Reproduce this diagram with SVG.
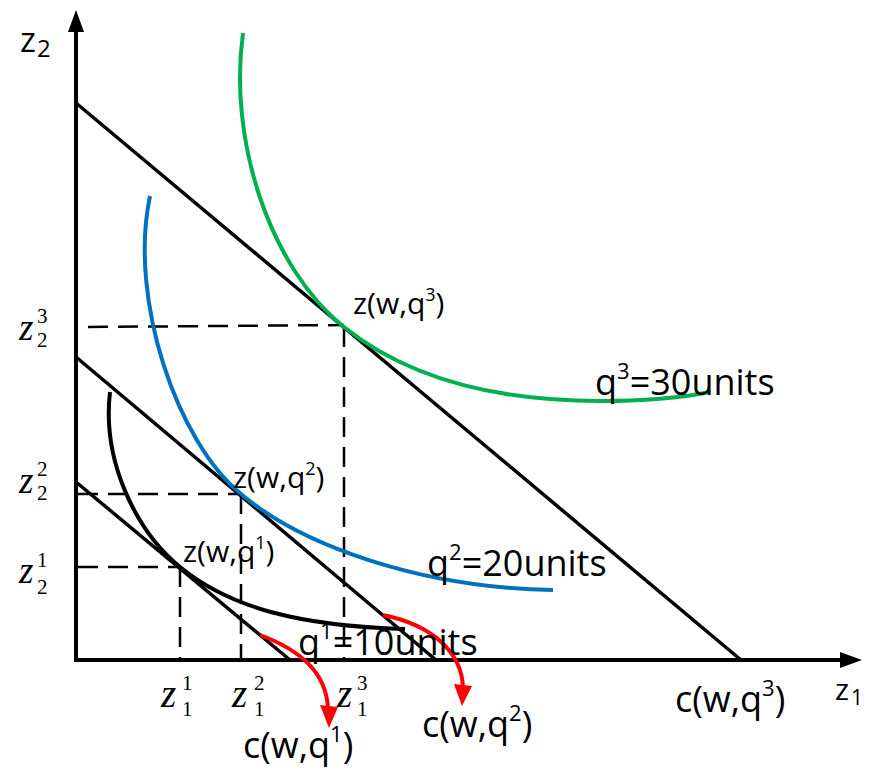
<svg xmlns="http://www.w3.org/2000/svg" width="875" height="770" viewBox="0 0 875 770">
<style>
.ax{stroke:#000;stroke-width:4;fill:none}
.bl{stroke:#000;stroke-width:3.5;fill:none}
.ds{stroke:#000;stroke-width:2.5;fill:none;stroke-dasharray:20 10}
.cv{stroke-width:4;fill:none}
.red{stroke:#ff0000;stroke-width:4;fill:none}
.sans{font-family:"Open Sans","Noto Sans",sans-serif;fill:#000}
.lab{font-size:30px}
.big{font-size:36px}
.zi{font-family:"Liberation Serif","Times New Roman",serif;font-style:italic;font-size:37px;fill:#000}
.zj{font-family:"Liberation Serif","Times New Roman",serif;font-style:italic;font-size:39px;fill:#000}
.zd{font-family:"Liberation Serif","Times New Roman",serif;font-size:21px;fill:#000}
</style>
<g id="axes">
<line class="ax" x1="76" y1="660" x2="76" y2="30"/>
<polygon points="76,10 68,32 84,32" fill="#000"/>
<line class="ax" x1="74" y1="660" x2="842" y2="660"/>
<polygon points="862,660 840,652 840,668" fill="#000"/>
<text class="sans" x="20" y="52" font-size="34">z</text>
<text class="sans" x="37" y="57" font-size="24">2</text>
<text class="sans" x="835" y="700" font-size="30">z</text>
<text class="sans" x="851" y="705" font-size="21">1</text>
</g>
<g id="connectors">
<line class="bl" x1="76" y1="103" x2="741" y2="660"/>
<line class="bl" x1="76" y1="357" x2="436" y2="660"/>
<line class="bl" x1="76" y1="482" x2="290" y2="660"/>
<line class="ds" x1="88" y1="327" x2="344" y2="325"/>
<line class="ds" x1="78" y1="494" x2="241" y2="494"/>
<line class="ds" x1="78" y1="567" x2="180" y2="567"/>
<line class="ds" x1="344" y1="327" x2="344" y2="660"/>
<line class="ds" x1="241" y1="494" x2="241" y2="660"/>
<line class="ds" x1="180" y1="567" x2="180" y2="660"/>
<path class="cv" stroke="#00b050" d="M243,33 C228,140 270,268 344,327 C400,372 480,401 600,401 C650,401 690,396 710,392"/>
<path class="cv" stroke="#0070c0" d="M150,196 C128,300 178,443 241,494 C301,545 420,588 553,590"/>
<path class="cv" stroke="#000" d="M110,392 C102,460 135,530 180,567 C230,608 300,626 405,629"/>
<path class="red" d="M260,635 C300,650 326,672 328,708"/>
<polygon points="329,728 320,705 338,707" fill="#ff0000"/>
<path class="red" d="M383,615 C432,625 462,652 463,688"/>
<polygon points="462,706 454,684 472,686" fill="#ff0000"/>
</g>
<g id="point-q3">
<text class="sans lab" x="353" y="314">z(w,q<tspan font-size="18" dy="-13">3</tspan><tspan dy="13">)</tspan></text>
</g>
<g id="point-q2">
<text class="sans lab" x="233" y="488">z(w,q<tspan font-size="18" dy="-13">2</tspan><tspan dy="13">)</tspan></text>
</g>
<g id="point-q1">
<text class="sans lab" x="183" y="562">z(w,q<tspan font-size="18" dy="-13">1</tspan><tspan dy="13">)</tspan></text>
</g>
<g id="iso-q3">
<text class="sans big" x="595" y="395">q<tspan font-size="22" dy="-16">3</tspan><tspan dy="16">=30units</tspan></text>
</g>
<g id="iso-q2">
<text class="sans big" x="427" y="576">q<tspan font-size="22" dy="-16">2</tspan><tspan dy="16">=20units</tspan></text>
</g>
<g id="iso-q1">
<text class="sans big" x="298" y="655">q<tspan font-size="22" dy="-16">1</tspan><tspan dy="16">=10units</tspan></text>
</g>
<g id="cost-q3">
<text class="sans big" x="675" y="712">c(w,q<tspan font-size="22" dy="-16">3</tspan><tspan dy="16">)</tspan></text>
</g>
<g id="cost-q2">
<text class="sans big" x="422" y="737">c(w,q<tspan font-size="22" dy="-16">2</tspan><tspan dy="16">)</tspan></text>
</g>
<g id="cost-q1">
<text class="sans big" x="243" y="758">c(w,q<tspan font-size="22" dy="-16">1</tspan><tspan dy="16">)</tspan></text>
</g>
<g id="z2-labels">
<text class="zi" x="19" y="340">z</text><text class="zd" x="37" y="323">3</text><text class="zd" x="37" y="347">2</text>
<text class="zi" x="19" y="493">z</text><text class="zd" x="37" y="476">2</text><text class="zd" x="37" y="500">2</text>
<text class="zi" x="19" y="583">z</text><text class="zd" x="37" y="567">1</text><text class="zd" x="37" y="594">2</text>
</g>
<g id="z1-labels">
<text class="zj" x="161" y="707">z</text><text class="zd" x="182" y="690">1</text><text class="zd" x="182" y="716">1</text>
<text class="zj" x="232" y="707">z</text><text class="zd" x="254" y="690">2</text><text class="zd" x="254" y="716">1</text>
<text class="zj" x="337" y="707">z</text><text class="zd" x="357" y="690">3</text><text class="zd" x="357" y="716">1</text>
</g>
</svg>
